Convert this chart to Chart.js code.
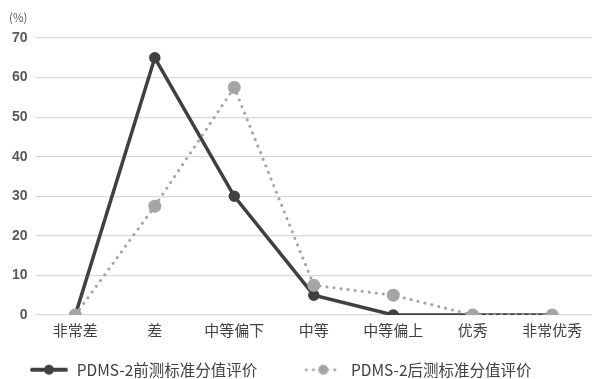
<!DOCTYPE html>
<html>
<head>
<meta charset="utf-8">
<script src="https://cdn.jsdelivr.net/npm/chart.js@4"></script>
<style>
  body { margin: 0; background: #fff; }
</style>
</head>
<body>
<canvas id="chart" width="592" height="379"></canvas>
<script>
const categories = ["非常差", "差", "中等偏下", "中等", "中等偏上", "优秀", "非常优秀"];
const preTest = [0, 65, 30, 5, 0, 0, 0];
const postTest = [0, 27.5, 57.5, 7.5, 5, 0, 0];
const seriesNames = ["PDMS-2前测标准分值评价", "PDMS-2后测标准分值评价"];
const yTicks = [0, 10, 20, 30, 40, 50, 60, 70];

const darkColor = "#404040";
const greyColor = "#a5a5a5";

// legend symbol: line with a dot in the middle
function legendIcon(color, dashed) {
  const c = document.createElement("canvas");
  c.width = 40; c.height = 12;
  const g = c.getContext("2d");
  g.strokeStyle = color;
  g.fillStyle = color;
  g.lineWidth = dashed ? 3 : 4;
  g.lineCap = "round";
  if (dashed) g.setLineDash([0.1, 7]);
  g.beginPath(); g.moveTo(3, 6); g.lineTo(37, 6); g.stroke();
  g.setLineDash([]);
  g.beginPath(); g.arc(20, 6, 5, 0, Math.PI * 2); g.fill();
  return c;
}

// "(%)" unit and legend placement tweaks
const extras = {
  id: "extras",
  afterInit(chart) {
    const lg = chart.legend;
    const fit = lg.fit;
    lg.fit = function () {
      fit.call(this);
      this.height = 34;
    };
  },
  afterLayout(chart) {
    const lg = chart.legend;
    const pad = lg.options.labels.padding;
    lg.top = 370 - pad - 8;
    lg.bottom = chart.height;
    lg.left = 29 - pad;
    lg.right = chart.width;
  },
  afterDraw(chart) {
    const ctx = chart.ctx;
    ctx.save();
    ctx.font = "11.5px 'Noto Sans CJK SC'";
    ctx.fillStyle = "#595959";
    ctx.textBaseline = "middle";
    ctx.fillText("(%)", 9, 18);
    ctx.restore();
  }
};

new Chart(document.getElementById("chart").getContext("2d"), {
  type: "line",
  data: {
    labels: categories,
    datasets: [
      {
        label: seriesNames[0],
        data: preTest,
        order: 1,
        borderColor: darkColor,
        backgroundColor: darkColor,
        borderWidth: 3.5,
        pointRadius: 4,
        pointHoverRadius: 4,
        tension: 0,
        fill: false,
      },
      {
        label: seriesNames[1],
        data: postTest,
        order: 0,
        borderColor: greyColor,
        backgroundColor: greyColor,
        borderWidth: 3,
        borderDash: [0.1, 7],
        borderCapStyle: "round",
        pointRadius: 5,
        pointHoverRadius: 5,
        tension: 0,
        fill: false,
      },
    ],
  },
  options: {
    responsive: false,
    animation: false,
    layout: { autoPadding: false, padding: { top: 38, left: 4, right: 0, bottom: 0 } },
    plugins: {
      tooltip: { enabled: false },
      legend: {
        position: "bottom",
        align: "start",
        labels: {
          usePointStyle: true,
          pointStyleWidth: 40,
          boxHeight: 12,
          padding: 46,
          color: "#404040",
          font: { size: 15.5, family: "'Noto Sans CJK SC'" },
          generateLabels(chart) {
            return chart.data.datasets.map((ds, i) => ({
              text: ds.label,
              pointStyle: legendIcon(ds.borderColor, i === 1),
              fillStyle: ds.borderColor,
              strokeStyle: ds.borderColor,
              lineWidth: 0,
              fontColor: "#404040",
              datasetIndex: i,
            }));
          },
        },
      },
    },
    scales: {
      x: {
        offset: true,
        grid: { display: false, drawTicks: false },
        border: { display: false },
        ticks: {
          color: "#404040",
          font: { size: 15, family: "'Noto Sans CJK SC'" },
          padding: 6,
          maxRotation: 0,
        },
      },
      y: {
        min: 0,
        max: 70,
        afterBuildTicks(axis) {
          axis.ticks = yTicks.map((v) => ({ value: v }));
        },
        grid: { color: "#d9d9d9", lineWidth: 1.2, drawTicks: false },
        border: { display: false },
        ticks: {
          color: "#595959",
          padding: 8,
          font: { size: 14, weight: "bold", family: "'Liberation Sans'" },
        },
      },
    },
  },
  plugins: [extras],
});
</script>
</body>
</html>
